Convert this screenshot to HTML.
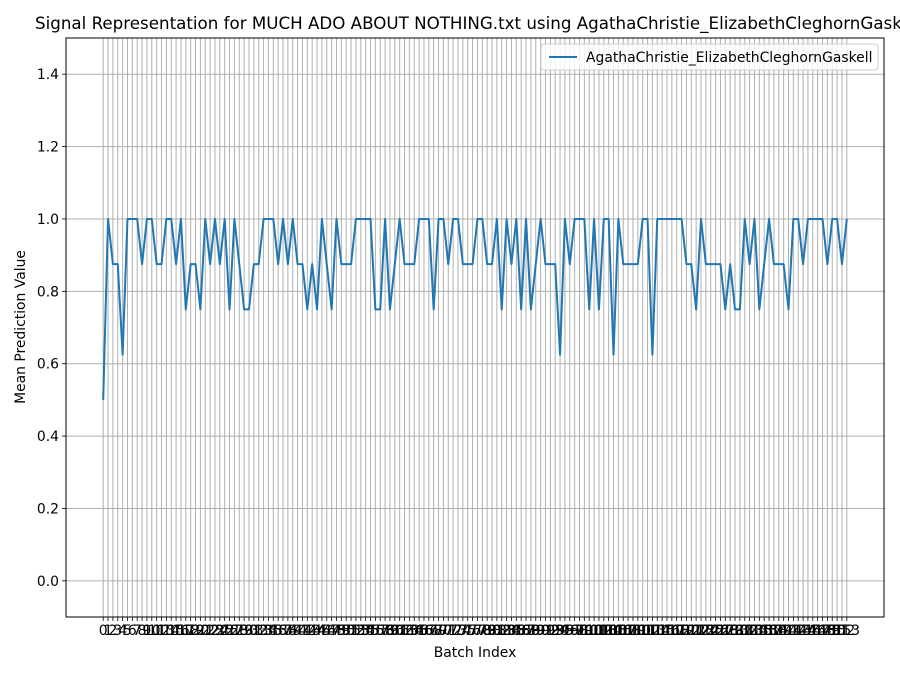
<!DOCTYPE html>
<html><head><meta charset="utf-8"><style>
body{margin:0;background:#fff;}
svg{display:block;font-family:"DejaVu Sans","Liberation Sans",sans-serif;}
</style></head><body>
<svg id="chart" width="900" height="675" viewBox="0 0 900 675">
<rect x="0" y="0" width="900" height="675" fill="#fff"/>
<text x="35" y="29" font-size="16.7" fill="#000">Signal Representation for MUCH ADO ABOUT NOTHING.txt using AgathaChristie_ElizabethCleghornGaskell</text>
<g id="grid"></g>
<g id="xticks"></g>
<g id="yticks"></g>
<path id="series" fill="none" stroke="#1f77b4" stroke-width="2" stroke-linejoin="round"/>
<rect x="66" y="38" width="818" height="579" fill="none" stroke="#000" stroke-width="1"/>
<text x="475" y="657" font-size="13.9" text-anchor="middle">Batch Index</text>
<text transform="translate(25,327) rotate(-90)" font-size="13.9" text-anchor="middle">Mean Prediction Value</text>
<g>
<rect x="541" y="44" width="337" height="26" rx="3" fill="#fff" fill-opacity="0.8" stroke="#ccc"/>
<line x1="549" y1="57" x2="577" y2="57" stroke="#1f77b4" stroke-width="2"/>
<text x="586" y="62" font-size="13.9">AgathaChristie_ElizabethCleghornGaskell</text>
</g>
</svg>
<script>
const values = [0.5,1,0.875,0.875,0.625,1,1,1,0.875,1,1,0.875,0.875,1,1,0.875,1,0.75,0.875,0.875,
0.75,1,0.875,1,0.875,1,0.75,1,0.875,0.75,0.75,0.875,0.875,1,1,1,0.875,1,0.875,1,
0.875,0.875,0.75,0.875,0.75,1,0.875,0.75,1,0.875,0.875,0.875,1,1,1,1,0.75,0.75,1,0.75,
0.875,1,0.875,0.875,0.875,1,1,1,0.75,1,1,0.875,1,1,0.875,0.875,0.875,1,1,0.875,
0.875,1,0.75,1,0.875,1,0.75,1,0.75,0.875,1,0.875,0.875,0.875,0.625,1,0.875,1,1,1,
0.75,1,0.75,1,1,0.625,1,0.875,0.875,0.875,0.875,1,1,0.625,1,1,1,1,1,1,
0.875,0.875,0.75,1,0.875,0.875,0.875,0.875,0.75,0.875,0.75,0.75,1,0.875,1,0.75,0.875,1,0.875,0.875,
0.875,0.75,1,1,0.875,1,1,1,1,0.875,1,1,0.875,1];
const yTicks = [0.0,0.2,0.4,0.6,0.8,1.0,1.2,1.4];
const L=66,R=884,T=38,B=617;
const n = values.length;
const xMin=-(n-1)*0.05, xMax=(n-1)*1.05;
const yMin=-0.1, yMax=1.5;
const xs = i => L+(i-xMin)/(xMax-xMin)*(R-L);
const ys = v => B-(v-yMin)/(yMax-yMin)*(B-T);
const NS="http://www.w3.org/2000/svg";
const grid=document.getElementById('grid'), xt=document.getElementById('xticks'), yt=document.getElementById('yticks');
function mk(tag,attrs,parent){const e=document.createElementNS(NS,tag);for(const k in attrs)e.setAttribute(k,attrs[k]);parent.appendChild(e);return e;}
for(let i=0;i<n;i++){
  const x=xs(i);
  const g=mk('line',{x1:x,y1:T,x2:x,y2:B,stroke:'#b0b0b0','stroke-width':1},grid);
  
  
  const t=mk('line',{x1:x,y1:B,x2:x,y2:B+4,stroke:'#000','stroke-width':0.8},xt);
  
  
  const l=mk('text',{x:x,y:B+18,'font-size':13.9,'text-anchor':'middle'},xt);
  l.textContent=String(i);
  
  
}
yTicks.forEach(v=>{
  const y=ys(v);
  const g=mk('line',{x1:L,y1:y,x2:R,y2:y,stroke:'#b0b0b0','stroke-width':1},grid);
  
  
  const t=mk('line',{x1:L-4,y1:y,x2:L,y2:y,stroke:'#000','stroke-width':0.8},yt);
  
  
  const l=mk('text',{x:L-7,y:y+5,'font-size':13.9,'text-anchor':'end'},yt);
  l.textContent=v.toFixed(1);
  
  
});
document.getElementById('series').setAttribute('d',values.map((v,i)=>(i?'L':'M')+xs(i).toFixed(2)+' '+ys(v).toFixed(2)).join(' '));
</script>
</body></html>
